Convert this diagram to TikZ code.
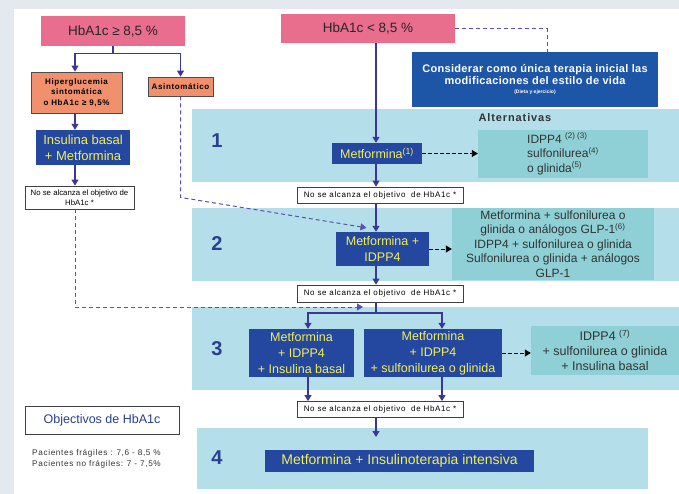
\documentclass[tikz,border=0pt]{standalone}
\usepackage{fontspec}
\setmainfont{Liberation Sans}
\newfontfamily\spaced[LetterSpace=8]{Liberation Sans}
\newfontfamily\wide[LetterSpace=3]{Liberation Sans}
\usetikzlibrary{arrows.meta}

\definecolor{pagebg}{HTML}{E4E8EF}
\definecolor{pinkbox}{HTML}{E96D8D}
\definecolor{orangebox}{HTML}{F0906C}
\definecolor{drugblue}{HTML}{2447A0}
\definecolor{lifeblue}{HTML}{1D56A7}
\definecolor{drugtext}{HTML}{F3EF55}
\definecolor{bandblue}{HTML}{B3DEEA}
\definecolor{altbox}{HTML}{8ED0D5}
\definecolor{stepnum}{HTML}{2B3F90}
\definecolor{flow}{HTML}{3B3797}
\definecolor{flowdash}{HTML}{5A50B0}
\definecolor{darktext}{HTML}{333333}

\tikzset{
  cond/.style={fill=pinkbox, inner sep=0pt, text=black!85, font=\fontsize{13.5}{16}\selectfont},
  sympt/.style={fill=orangebox, draw=black!70, line width=0.8pt, inner sep=0pt, align=center,
    font=\spaced\bfseries\fontsize{8}{10.5}\selectfont},
  drug/.style={fill=drugblue, text=drugtext, align=center, inner sep=0pt,
    font=\fontsize{12.5}{16}\selectfont},
  goalbox/.style={fill=white, draw=black!75, line width=0.8pt, inner sep=0pt, align=center,
    font=\spaced\fontsize{8}{10}\selectfont},
  bandbox/.style={fill=bandblue, inner sep=0pt, anchor=north west},
  alt/.style={fill=altbox, inner sep=0pt, align=center, text=darktext,
    font=\fontsize{12}{14.5}\selectfont},
  stepno/.style={text=stepnum, font=\bfseries\fontsize{20}{20}\selectfont},
  flowline/.style={draw=flow, line width=1.1pt},
  flowarrow/.style={flowline, -{Triangle[length=6pt,width=7pt]}},
  crossdash/.style={draw=flowdash, line width=1pt, dash pattern=on 4pt off 3pt},
  altdash/.style={draw=black, line width=0.9pt, dash pattern=on 3.5pt off 2.5pt,
    -{Triangle[length=6pt,width=7pt]}},
}

\begin{document}
\begin{tikzpicture}[x=1pt,y=-1pt]
  % page
  \fill[pagebg] (0,0) rectangle (679,494);
  \fill[white] (14,9) rectangle (679,494);
  \useasboundingbox (0,0) rectangle (679,494);

  % step bands
  \node[bandbox, minimum width=487, minimum height=73] (b1) at (192,109) {};
  \node[bandbox, minimum width=487, minimum height=73] (b2) at (192,208) {};
  \node[bandbox, minimum width=487, minimum height=83] (b3) at (192,307) {};
  \node[bandbox, minimum width=451, minimum height=61] (b4) at (197,428) {};

  \node[stepno] (s1) at (217,141) {1};
  \node[stepno] (s2) at (217,244) {2};
  \node[stepno] (s3) at (217,349) {3};
  \node[stepno] (s4) at (217,458) {4};

  % starting conditions
  \node[cond, minimum width=144, minimum height=30] (p1) at (113,31) {HbA1c ≥ 8,5 \%};
  \node[cond, minimum width=174, minimum height=29] (p2) at (368,28.5) {HbA1c < 8,5 \%};

  \node[sympt, minimum width=91, minimum height=41] (o1) at (76.5,92.5)
    {Hiperglucemia\\sintomática\\o HbA1c ≥ 9,5\%};
  \node[sympt, minimum width=65, minimum height=19] (o2) at (180.5,86.5) {Asintomático};

  \node[drug, minimum width=94, minimum height=35, font=\fontsize{13}{16}\selectfont] (ib)
    at (83,147.5) {Insulina basal\\+ Metformina};
  \node[goalbox, minimum width=109, minimum height=23, font=\fontsize{7.8}{10}\selectfont] (n0)
    at (79.5,197.5) {No se alcanza el objetivo de\\HbA1c *};

  \node[fill=lifeblue, text=white, align=center, inner sep=0pt, minimum width=246,
    minimum height=55] (cons) at (535,79.5)
    {\wide\bfseries\fontsize{11}{13}\selectfont Considerar como única terapia inicial las\\
     \wide\bfseries\fontsize{11}{13}\selectfont modificaciones del estilo de vida\\[-3pt]
     \bfseries\fontsize{5}{6}\selectfont (Dieta y ejercicio)};

  % step 1
  \node[drug, minimum width=90, minimum height=21] (m1) at (377,153.5)
    {Metformina\textsuperscript{(1)}};
  \node[text=darktext, font=\spaced\bfseries\fontsize{11}{13}\selectfont] (altt) at (515,118) {Alternativas};
  \node[alt, minimum width=170, minimum height=48, align=left] (a1) at (563,154)
    {IDPP4 \textsuperscript{(2) (3)}\\sulfonilurea\textsuperscript{(4)}\\o glinida\textsuperscript{(5)}};
  \node[goalbox, minimum width=166, minimum height=16] (n1) at (380,195)
    {No se alcanza el objetivo\ \ de HbA1c *};

  % step 2
  \node[drug, minimum width=93, minimum height=34] (m2) at (382.5,249) {Metformina +\\IDPP4};
  \node[alt, minimum width=202, minimum height=72] (a2) at (553,244)
    {Metformina + sulfonilurea o\\glinida o análogos GLP-1\textsuperscript{(6)}\\IDPP4 + sulfonilurea o glinida\\Sulfonilurea o glinida + análogos\\GLP-1};
  \node[goalbox, minimum width=166, minimum height=17] (n2) at (380,293.5)
    {No se alcanza el objetivo\ \ de HbA1c *};

  % step 3
  \node[drug, minimum width=105, minimum height=48] (m3a) at (301.5,353)
    {Metformina\\+ IDPP4\\+ Insulina basal};
  \node[drug, minimum width=138, minimum height=48] (m3b) at (433,353)
    {Metformina\\+ IDPP4\\+ sulfonilurea o glinida};
  \node[alt, minimum width=148, minimum height=49, font=\fontsize{12.5}{15}\selectfont] (a3) at (605,350.5)
    {IDPP4 \textsuperscript{(7)}\\+ sulfonilurea o glinida\\+ Insulina basal};
  \node[goalbox, minimum width=166, minimum height=16] (n3) at (380,409.5)
    {No se alcanza el objetivo\ \ de HbA1c *};

  % step 4
  \node[drug, minimum width=269, minimum height=22, font=\fontsize{14}{16}\selectfont] (m4)
    at (399.5,461) {Metformina + Insulinoterapia intensiva};

  % targets
  \node[fill=white, draw=black!75, line width=0.8pt, inner sep=0pt, minimum width=154,
    minimum height=28, text=stepnum, font=\fontsize{12.5}{14}\selectfont] (obj) at (102,420)
    {Objectivos de HbA1c};
  \node[anchor=north west, inner sep=0pt, align=left, text=black!80,
    font=\spaced\fontsize{8.2}{11}\selectfont] (pac) at (32,449)
    {Pacientes frágiles : 7,6 - 8,5 \%\\Pacientes no frágiles: 7 - 7,5\%};

  % junction points
  \coordinate (leftcol) at (75,0);
  \coordinate (spine) at (376,0);
  \coordinate (brA) at (308,0);
  \coordinate (brB) at (442,0);
  \coordinate (j3) at (376,313);
  \coordinate (dashend) at (363,307);

  % left branch
  \draw[flowline] (p1.south) -- ++(0,7) coordinate (j1);
  \draw[flowarrow] (j1) -| (o1.north -| leftcol);
  \draw[flowarrow] (j1) -| (o2.north);
  \draw[flowarrow] (o1.south -| leftcol) -- (ib.north -| leftcol);
  \draw[flowarrow] (ib.south -| leftcol) -- (n0.north -| leftcol);

  % main spine
  \draw[flowarrow] (p2.south -| spine) -- (m1.north -| spine);
  \draw[flowarrow] (m1.south -| spine) -- (n1.north -| spine);
  \draw[flowarrow] (n1.south -| spine) -- (m2.north -| spine);
  \draw[flowarrow] (m2.south -| spine) -- (n2.north -| spine);
  \draw[flowline] (n2.south -| spine) -- (j3);
  \draw[flowarrow] (j3) -| (m3a.north -| brA);
  \draw[flowarrow] (j3) -| (m3b.north -| brB);
  \draw[flowarrow] (m3a.south -| brA) -- (n3.north -| brA);
  \draw[flowarrow] (m3b.south -| brB) -- (n3.north -| brB);
  \draw[flowarrow] (n3.south -| spine) -- ([yshift=-9pt]b4.north -| spine);

  % alternatives
  \draw[altdash] (m1.east) -- (m1.east -| a1.west);
  \draw[altdash] (m2.east) -- (m2.east -| a2.west);
  \draw[altdash] (m3b.east) -- (m3b.east -| a3.west);

  % cross links
  \draw[crossdash] (p2.east) -| ([xshift=12pt]cons.north);
  \draw[crossdash, -{Triangle[length=6pt,width=7pt]}] (o2.south) -- ++(0,101)
    -- ([xshift=-16pt,yshift=4pt]m2.north);
  \draw[crossdash, -{Triangle[length=6pt,width=7pt]}] (n0.south -| leftcol) |- (dashend);
\end{tikzpicture}
\end{document}
